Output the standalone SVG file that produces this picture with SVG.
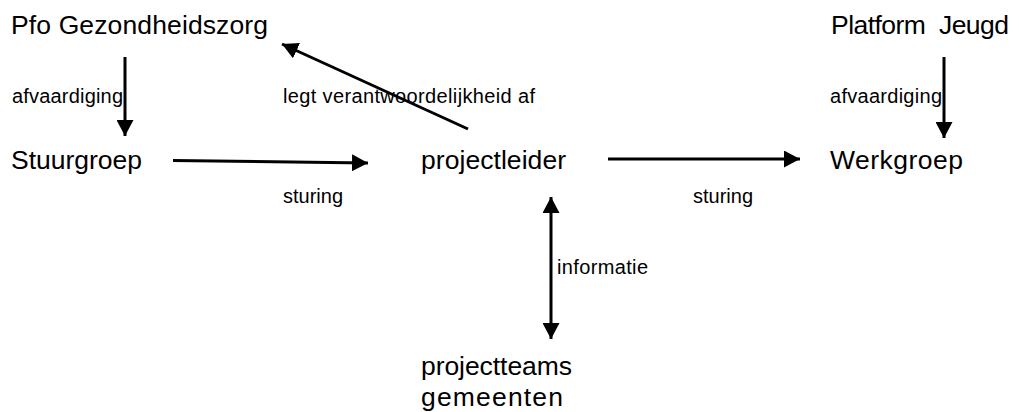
<svg xmlns="http://www.w3.org/2000/svg" width="1019" height="412" viewBox="0 0 1019 412">
<style>
text{font-family:"Liberation Sans",Arial,sans-serif;fill:#000;white-space:pre}
.big{font-size:26.5px}
.sm{font-size:20px}
.c{stroke:#000;stroke-width:3;fill:none}
</style>
<defs>
<marker id="ah" markerUnits="userSpaceOnUse" markerWidth="16" markerHeight="17" viewBox="0 0 16 17" refX="16" refY="8.5" orient="auto-start-reverse">
<path d="M0,0 L16,8.5 L0,17 Z" fill="#000"/>
</marker>
</defs>
<rect width="1019" height="412" fill="#fff"/>
<g id="connectors">
<line class="c" x1="125" y1="57" x2="125" y2="136" marker-end="url(#ah)"/>
<line class="c" x1="944" y1="57" x2="944" y2="138" marker-end="url(#ah)"/>
<line class="c" x1="173" y1="160.5" x2="368" y2="163" marker-end="url(#ah)"/>
<line class="c" x1="608" y1="159" x2="800" y2="159" marker-end="url(#ah)"/>
<line class="c" x1="468" y1="129" x2="282" y2="44" marker-end="url(#ah)"/>
<line class="c" x1="551" y1="197" x2="551" y2="339" marker-start="url(#ah)" marker-end="url(#ah)"/>
<text class="sm" x="12" y="103" textLength="111" lengthAdjust="spacing">afvaardiging</text>
<text class="sm" x="830" y="103" textLength="112" lengthAdjust="spacing">afvaardiging</text>
<text class="sm" x="283" y="103" textLength="252" lengthAdjust="spacing">legt verantwoordelijkheid af</text>
<text class="sm" x="283" y="203" textLength="60" lengthAdjust="spacing">sturing</text>
<text class="sm" x="693" y="203" textLength="60" lengthAdjust="spacing">sturing</text>
<text class="sm" x="557" y="274" textLength="91" lengthAdjust="spacing">informatie</text>
</g>
<g id="pfo"><text class="big" x="11" y="34" textLength="257" lengthAdjust="spacing">Pfo Gezondheidszorg</text></g>
<g id="platform"><text class="big" x="831" y="34" textLength="178" lengthAdjust="spacing">Platform  Jeugd</text></g>
<g id="stuurgroep"><text class="big" x="11" y="169" textLength="131" lengthAdjust="spacing">Stuurgroep</text></g>
<g id="projectleider"><text class="big" x="421" y="169" textLength="145" lengthAdjust="spacing">projectleider</text></g>
<g id="werkgroep"><text class="big" x="830" y="169" textLength="133" lengthAdjust="spacing">Werkgroep</text></g>
<g id="projectteams"><text class="big" x="421" y="375" textLength="151" lengthAdjust="spacing">projectteams</text><text class="big" x="421" y="406" textLength="142" lengthAdjust="spacing">gemeenten</text></g>
</svg>
